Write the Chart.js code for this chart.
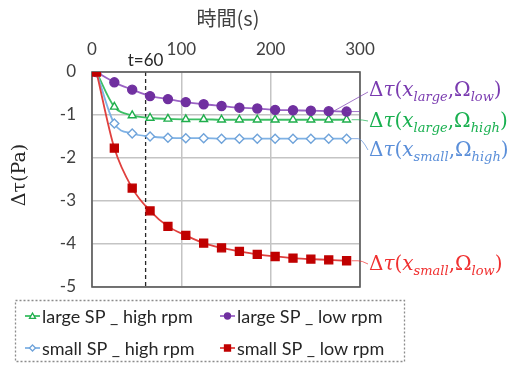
<!DOCTYPE html>
<html>
<head>
<meta charset="utf-8">
<script src="https://cdn.jsdelivr.net/npm/chart.js@4.4.1/dist/chart.umd.min.js"></script>
<style>
html, body { margin: 0; padding: 0; background: #fff; }
#c { display: block; }
</style>
</head>
<body>
<canvas id="c" width="518" height="367"></canvas>
<script>
// データ (読み取り値)
const timeSec   = [5, 25, 45, 65, 85, 105, 125, 145, 165, 185, 205, 225, 245, 265, 285];
const largeHigh = [0, -0.81, -1.01, -1.07, -1.09, -1.10, -1.10, -1.11, -1.11, -1.11, -1.11, -1.11, -1.11, -1.11, -1.11];
const largeLow  = [0, -0.24, -0.41, -0.56, -0.63, -0.70, -0.75, -0.79, -0.83, -0.85, -0.88, -0.89, -0.90, -0.91, -0.92];
const smallHigh = [0, -1.20, -1.43, -1.50, -1.53, -1.54, -1.54, -1.55, -1.55, -1.55, -1.55, -1.55, -1.55, -1.55, -1.55];
const smallLow  = [0, -1.77, -2.70, -3.23, -3.59, -3.80, -3.98, -4.09, -4.17, -4.24, -4.29, -4.33, -4.35, -4.37, -4.39];
const seriesNames = ['large SP _ high rpm', 'large SP _ low rpm', 'small SP _ high rpm', 'small SP _ low rpm'];
const xTitle = '時間(s)';
const yTitle = 'Δτ(Pa)';
const tMark = 60;
const tMarkLabel = 't=60';

const toPts = arr => arr.map((v, i) => ({ x: timeSec[i], y: v }));

const styles = [
    { line: '#3cbf64', pt: '#1fae4c', fill: '#ffffff', shape: 'triangle', r: 4.5 },
    { line: '#9a62c4', pt: '#7030a0', fill: '#7030a0', shape: 'circle', r: 4.5 },
    { line: '#7fb2e5', pt: '#6fa3da', fill: '#ffffff', shape: 'rectRot', r: 4.5 },
    { line: '#e0403e', pt: '#c00000', fill: '#c00000', shape: 'rect', r: 5.6 },
];
const seriesData = [largeHigh, largeLow, smallHigh, smallLow];

const datasets = seriesData.map((arr, i) => ({
    label: seriesNames[i],
    data: toPts(arr),
    borderColor: styles[i].line,
    borderWidth: 1.8,
    pointStyle: styles[i].shape,
    pointRadius: styles[i].r,
    pointBorderColor: styles[i].pt,
    pointBackgroundColor: styles[i].fill,
    pointBorderWidth: 1.4,
    cubicInterpolationMode: 'monotone',
    order: 3 - i,
}));

// 右側の注釈ラベル
const annotations = [
    { sub1: 'large', sub2: 'low',  color: '#7a3bb0', y: 90,  series: 1, from: 13 },
    { sub1: 'large', sub2: 'high', color: '#19b050', y: 121, series: 0, from: 14 },
    { sub1: 'small', sub2: 'high', color: '#5b8fd9', y: 150, series: 2, from: 14 },
    { sub1: 'small', sub2: 'low',  color: '#f03030', y: 264, series: 3, from: 14 },
];

function drawMath(ctx, x, y, a) {
    const big = 20, small = 13;
    const segs = [
        { t: 'Δ', it: false, s: big, dy: 0 },
        { t: 'τ', it: true, s: big, dy: 0 },
        { t: '(', it: false, s: big, dy: 0 },
        { t: 'x', it: true, s: big, dy: 0 },
        { t: a.sub1, it: true, s: small, dy: 5 },
        { t: ',', it: false, s: big, dy: 0 },
        { t: 'Ω', it: false, s: big, dy: 0 },
        { t: a.sub2, it: true, s: small, dy: 5 },
        { t: ')', it: false, s: big, dy: 0 },
    ];
    ctx.fillStyle = a.color;
    ctx.textBaseline = 'alphabetic';
    ctx.textAlign = 'left';
    let cx = x;
    segs.forEach(s => {
        ctx.font = (s.it ? 'italic ' : '') + s.s + 'px "DejaVu Serif"';
        ctx.fillText(s.t, cx, y + 6 + s.dy);
        cx += ctx.measureText(s.t).width;
    });
}

function drawMarker(ctx, st, x, y, r) {
    ctx.save();
    ctx.strokeStyle = st.pt;
    ctx.fillStyle = st.fill;
    ctx.lineWidth = 1.3;
    ctx.beginPath();
    if (st.shape === 'circle') {
        ctx.arc(x, y, r, 0, Math.PI * 2);
    } else if (st.shape === 'rect') {
        ctx.rect(x - r, y - r, 2 * r, 2 * r);
    } else if (st.shape === 'rectRot') {
        ctx.moveTo(x, y - r); ctx.lineTo(x + r, y); ctx.lineTo(x, y + r); ctx.lineTo(x - r, y);
        ctx.closePath();
    } else {
        ctx.moveTo(x, y - r); ctx.lineTo(x + r, y + r * 0.8); ctx.lineTo(x - r, y + r * 0.8);
        ctx.closePath();
    }
    ctx.fill();
    ctx.stroke();
    ctx.restore();
}

const decor = {
    id: 'decor',
    beforeDatasetsDraw(chart) {
        const { ctx, chartArea: a, scales } = chart;
        ctx.save();
        // t=60 破線
        const xp = scales.x.getPixelForValue(tMark);
        ctx.strokeStyle = '#262626';
        ctx.lineWidth = 1.3;
        ctx.setLineDash([4, 3]);
        ctx.beginPath();
        ctx.moveTo(xp, a.top);
        ctx.lineTo(xp, a.bottom);
        ctx.stroke();
        ctx.setLineDash([]);
        // 枠
        ctx.strokeStyle = '#5a5a5a';
        ctx.lineWidth = 1.6;
        ctx.strokeRect(a.left, a.top, a.right - a.left, a.bottom - a.top);
        ctx.restore();
    },
    afterDraw(chart) {
        const { ctx, chartArea: a, scales } = chart;
        ctx.save();
        // 軸タイトル
        ctx.fillStyle = '#404040';
        ctx.textAlign = 'center';
        ctx.textBaseline = 'middle';
        ctx.font = '20px "Noto Sans CJK JP"';
        ctx.fillText(xTitle, (a.left + a.right) / 2 + 2, 18);
        ctx.save();
        ctx.translate(20, 175);
        ctx.rotate(-Math.PI / 2);
        ctx.fillStyle = '#262626';
        ctx.font = '19px "DejaVu Serif"';
        ctx.fillText(yTitle, 0, 0);
        ctx.restore();
        // t=60 ラベル
        ctx.fillStyle = '#262626';
        ctx.font = '17px Lato';
        ctx.fillText(tMarkLabel, scales.x.getPixelForValue(tMark), 61);

        // 注釈と引き出し線
        annotations.forEach(an => {
            const idx = an.from;
            const px = scales.x.getPixelForValue(timeSec[idx]) + 5;
            const py = scales.y.getPixelForValue(seriesData[an.series][idx]);
            const lx = a.right + 8;
            ctx.strokeStyle = an.color;
            ctx.globalAlpha = 0.7;
            ctx.lineWidth = 1;
            ctx.beginPath();
            if (an.from === timeSec.length - 1) {
                ctx.moveTo(px, py);
                ctx.lineTo(a.right - 2, py);
                ctx.quadraticCurveTo(a.right + 2, py, lx, an.y);
            } else {
                // 末尾の水平線 + 斜めの引き出し線
                const ex = scales.x.getPixelForValue(timeSec[timeSec.length - 1]);
                const ey = scales.y.getPixelForValue(seriesData[an.series][timeSec.length - 1]);
                ctx.moveTo(ex, ey);
                ctx.lineTo(a.right, ey);
                ctx.moveTo(px, py);
                ctx.lineTo(lx, an.y + 2);
            }
            ctx.stroke();
            ctx.globalAlpha = 1;
            drawMath(ctx, lx + 1, an.y, an);
        });

        // 凡例
        ctx.strokeStyle = '#8c8c8c';
        ctx.lineWidth = 1.3;
        ctx.setLineDash([2, 2]);
        ctx.strokeRect(15.5, 300.5, 389, 61);
        ctx.setLineDash([]);
        const pos = [[25, 316], [220, 316], [25, 348], [220, 348]];
        pos.forEach((p, i) => {
            const st = styles[i];
            ctx.strokeStyle = st.line;
            ctx.lineWidth = 1.8;
            ctx.beginPath();
            ctx.moveTo(p[0], p[1]);
            ctx.lineTo(p[0] + 15, p[1]);
            ctx.stroke();
            drawMarker(ctx, st, p[0] + 7.5, p[1], 3);
            ctx.fillStyle = '#262626';
            ctx.font = '18px Lato';
            ctx.textAlign = 'left';
            ctx.textBaseline = 'middle';
            ctx.fillText(seriesNames[i], p[0] + 17, p[1] + 1);
        });
        ctx.restore();
    }
};

new Chart(document.getElementById('c'), {
    type: 'line',
    data: { datasets },
    options: {
        responsive: false,
        animation: false,
        layout: { padding: { left: 0, right: 158, top: 0, bottom: 80 } },
        plugins: { legend: { display: false }, tooltip: { enabled: false } },
        scales: {
            x: {
                type: 'linear',
                position: 'top',
                min: 0, max: 300,
                ticks: { stepSize: 100, color: '#404040', font: { family: 'Lato', size: 17 }, padding: 12 },
                grid: { color: '#c4c4c4', lineWidth: 1.5, drawTicks: false },
                border: { display: false },
                afterFit: s => { s.height = 72; },
            },
            y: {
                min: -5, max: 0,
                ticks: { stepSize: 1, color: '#404040', font: { family: 'Lato', size: 17 }, padding: 16 },
                grid: { color: '#c4c4c4', lineWidth: 1.5, drawTicks: false },
                border: { display: false },
                afterFit: s => { s.width = 92; },
            },
        },
    },
    plugins: [decor],
});
</script>
</body>
</html>
